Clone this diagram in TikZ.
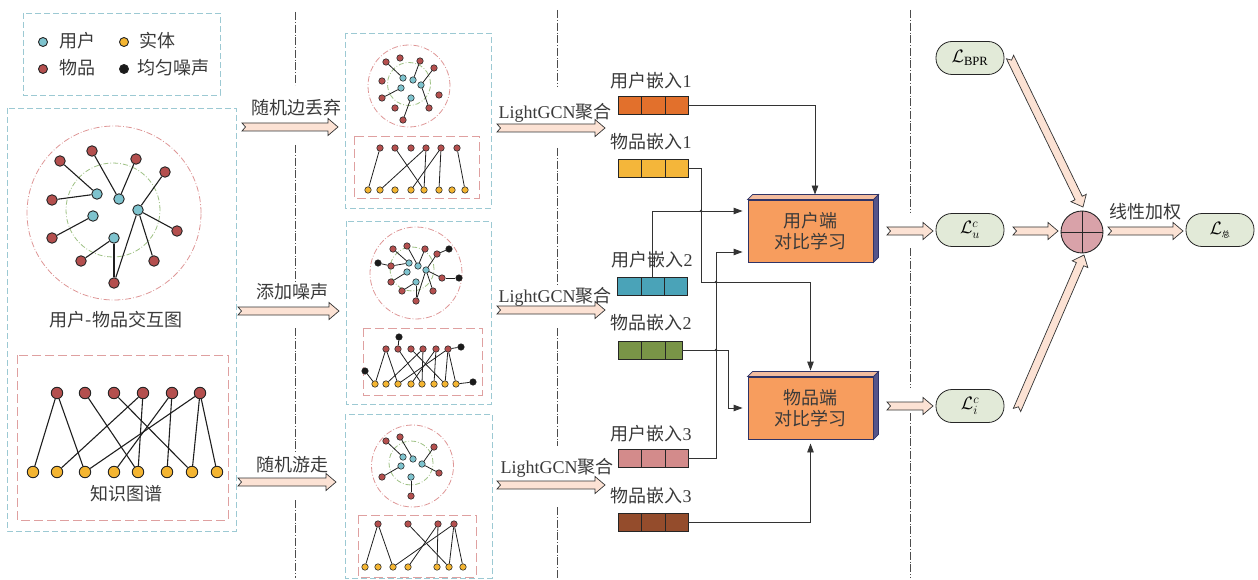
\documentclass[tikz,border=0pt]{standalone}
\usepackage{fix-cm}
\usepackage{fontspec}
\setmainfont{Liberation Serif}
\newfontfamily\cjk{Noto Sans CJK SC}
\usetikzlibrary{arrows.meta,calc}

\definecolor{ucol}{HTML}{7EC3CE}
\definecolor{icol}{HTML}{B44F4E}
\definecolor{ecol}{HTML}{F4B531}
\definecolor{ncol}{HTML}{1A1A1A}
\definecolor{cblue}{HTML}{9CC9D3}
\definecolor{cred}{HTML}{DFA0A0}
\definecolor{cpink}{HTML}{DE9696}
\definecolor{cgreen}{HTML}{9DC083}
\definecolor{peach}{HTML}{FCE2D4}
\definecolor{clbox}{HTML}{F79D5E}
\definecolor{cltop}{HTML}{F3BC9E}
\definecolor{clside}{HTML}{55558A}
\definecolor{clborder}{HTML}{2F3366}
\definecolor{lossfill}{HTML}{E2EAD8}
\definecolor{sumfill}{HTML}{D9A2A9}
\definecolor{embUa}{HTML}{E2702C}
\definecolor{embIa}{HTML}{F4B63A}
\definecolor{embUb}{HTML}{4AA3B8}
\definecolor{embIb}{HTML}{799447}
\definecolor{embUc}{HTML}{D38B8B}
\definecolor{embIc}{HTML}{944C2C}
\definecolor{txtc}{HTML}{3A3A3A}

\tikzset{
  gn/.style={circle, draw=black!85, line width=0.55pt, inner sep=0pt, minimum size=#1},
  usr/.style={gn=#1, fill=ucol},
  itm/.style={gn=#1, fill=icol},
  ent/.style={gn=#1, fill=ecol},
  noi/.style={gn=#1, fill=ncol},
  thick node/.style={line width=0.9pt},
  lnk/.style={draw=black!88, line width=1.1pt},
  slnk/.style={draw=black!88, line width=0.8pt},
  bluebox/.style={draw=cblue, line width=0.8pt, dash pattern=on 6pt off 3pt},
  redbox/.style={draw=cred, line width=0.9pt, dash pattern=on 9pt off 4pt},
  ring/.style={draw=cpink, line width=0.8pt, dash pattern=on 6pt off 2pt on 0.8pt off 2pt},
  gring/.style={draw=cgreen, line width=0.8pt, dash pattern=on 5pt off 2pt on 0.8pt off 2pt},
  vline/.style={draw=black!70, line width=0.6pt, dash pattern=on 8pt off 2pt on 0.6pt off 2pt},
  txt/.style={font=\cjk\fontsize{18}{21}\selectfont, text=txtc, inner sep=0pt},
  lat/.style={font=\fontsize{18}{21}\selectfont, text=txtc, inner sep=0pt},
  emb/.style={draw=black!85, line width=0.8pt, minimum width=#1, minimum height=18pt, inner sep=0pt,
    path picture={\draw[black!85, line width=0.8pt]
      ([xshift=23.5pt]path picture bounding box.north west) -- ([xshift=23.5pt]path picture bounding box.south west)
      ([xshift=47pt]path picture bounding box.north west) -- ([xshift=47pt]path picture bounding box.south west);}},
  cbox/.style={draw=clborder, line width=0.9pt, fill=clbox, minimum width=125pt, minimum height=62pt,
    inner sep=0pt, align=center, font=\cjk\fontsize{18}{21}\selectfont, text=txtc},
  loss/.style={draw=black!85, line width=0.8pt, fill=lossfill, rounded corners=16pt,
    minimum width=68pt, minimum height=33pt, inner sep=0pt, font=\fontsize{18}{20}\selectfont},
  conn/.style={draw=black!80, line width=0.9pt, -{Triangle[length=9pt,width=6.5pt]}},
  fat/.style={draw=black!80, line width=0.7pt, fill=peach, line join=miter,
    to path={let \p1=(\tikztostart), \p2=(\tikztotarget),
      \n1={atan2(\y2-\y1,\x2-\x1)}, \n2={veclen(\x2-\x1,\y2-\y1)} in
      {[shift={(\p1)}, rotate=\n1, x=1pt, y=1pt]
        (0,4) -- (\n2-10,4) -- (\n2-10,8.5) -- (\n2,0) -- (\n2-10,-8.5) -- (\n2-10,-4) -- (0,-4) -- (3.5,0) -- cycle}}},
}

\begin{document}
\begin{tikzpicture}[x=1pt,y=-1pt]
\useasboundingbox (0,0) rectangle (1258,580);

% ---------- legend ----------
\draw[bluebox] (23,13) rectangle (220,95);
\node[usr=9pt, thick node] (lgu) at (43,42) {};
\node[txt,anchor=west] (lgut) at (59,41) {用户};
\node[ent=9pt, thick node] (lge) at (124,42) {};
\node[txt,anchor=west] (lget) at (139,41) {实体};
\node[itm=9pt, thick node] (lgi) at (43,69) {};
\node[txt,anchor=west] (lgit) at (59,68) {物品};
\node[noi=9pt, thick node] (lgn) at (124,69) {};
\node[txt,anchor=west] (lgnt) at (137,68) {均匀噪声};

% ---------- input graphs ----------
\draw[bluebox] (7,108) rectangle (236,531);
\draw[ring] (114,213) circle[radius=87pt];
\draw[gring] (113,210) circle[radius=47pt];
\foreach \n/\x/\y in {1/60/161,2/92/151,3/136/159,4/165/172,5/52/200,6/52/238,7/177/231,8/81/261,9/154/261,10/114/283}
  \node[itm=10.5pt, thick node] (Gi\n) at (\x,\y) {};
\foreach \n/\x/\y in {1/97/194,2/119/199,3/138/210,4/93/216,5/114/238}
  \node[usr=10.5pt, thick node] (Gu\n) at (\x,\y) {};
\foreach \a/\b in {Gi1/Gu1,Gi5/Gu1,Gi2/Gu2,Gi3/Gu2,Gi4/Gu3,Gu3/Gi7,Gu3/Gi9,Gu3/Gi10,Gu4/Gi6,Gu5/Gi8,Gu5/Gi10}
  \draw[lnk] (\a) -- (\b);
\node[txt] (gtitle) at (116,320) {用户-物品交互图};

\draw[redbox] (17,355) rectangle (228,520);
\foreach \n/\x in {1/57,2/85,3/114,4/143,5/172,6/200}
  \node[itm=11.5pt, thick node] (Ki\n) at (\x,393) {};
\foreach \n/\x in {1/33,2/57,3/85,4/114,5/138,6/167,7/192,8/217}
  \node[ent=11.5pt, thick node] (Ke\n) at (\x,472) {};
\foreach \a/\b in {Ki1/Ke1,Ki1/Ke3,Ki2/Ke5,Ki3/Ke7,Ki4/Ke2,Ki4/Ke5,Ki5/Ke4,Ki5/Ke6,Ki6/Ke3,Ki6/Ke7,Ki6/Ke8}
  \draw[lnk] (\a) -- (\b);
\node[txt] (ktitle) at (126,494) {知识图谱};

% ---------- separators ----------
\foreach \a/\b in {12/85,145/282,328/452,500/578} \draw[vline] (295,\a) -- (295,\b);
\foreach \a/\b in {10/86,148/286,328/446,507/578} \draw[vline] (557,\a) -- (557,\b);
\foreach \a/\b in {10/213,248/387,413/578} \draw[vline] (910,\a) -- (910,\b);

% ---------- augmentation arrows ----------
\coordinate (fa1s) at (242,127); \coordinate (fa1e) at (338,127);
\coordinate (fa2s) at (238,311); \coordinate (fa2e) at (339,311);
\coordinate (fa3s) at (238,482); \coordinate (fa3e) at (336,482);
\draw[fat] (fa1s) to (fa1e);
\draw[fat] (fa2s) to (fa2e);
\draw[fat] (fa3s) to (fa3e);
\node[txt] (aug1) at (296,108) {随机边丢弃};
\node[txt] (aug2) at (292,292) {添加噪声};
\node[txt] (aug3) at (292,465) {随机游走};

% ---------- view 1: edge dropout ----------
\draw[bluebox] (345,33) rectangle (491,208);
\draw[ring] (409,86) circle[radius=41pt];
\draw[gring] (409,84) circle[radius=21.5pt];
\foreach \n/\x/\y in {1/386/62,2/400/58,3/420/61,4/434/68,5/382/81,6/439/95,7/382/98,8/395/108,9/429/108,10/403/120}
  \node[itm=6.5pt] (Ai\n) at (\x,\y) {};
\foreach \n/\x/\y in {1/403/78,2/413/80,3/401/88,4/421/85,5/411/98}
  \node[usr=6.5pt] (Au\n) at (\x,\y) {};
\foreach \a/\b in {Ai1/Au1,Ai3/Au2,Ai4/Au4,Au4/Ai9,Ai7/Au3,Au5/Ai10}
  \draw[slnk] (\a) -- (\b);
\draw[redbox] (354,136) rectangle (479,198);
\foreach \n/\x in {1/380,2/395,3/411,4/426,5/441,6/457}
  \node[itm=6.5pt] (AKi\n) at (\x,148) {};
\foreach \n/\x in {1/368,2/380,3/395,4/411,5/424,6/439,7/452,8/465}
  \node[ent=6.5pt] (AKe\n) at (\x,190) {};
\foreach \a/\b in {AKi1/AKe1,AKi2/AKe5,AKi4/AKe2,AKi4/AKe5,AKi5/AKe4,AKi5/AKe6,AKi6/AKe8}
  \draw[slnk] (\a) -- (\b);

% ---------- view 2: noise ----------
\draw[bluebox] (346,221) rectangle (491,404);
\draw[ring] (416,273) circle[radius=46pt];
\draw[gring] (412,269) circle[radius=22pt];
\foreach \n/\x/\y in {1/393/249,2/407/246,3/425/249,4/437/254,5/391/266,6/391/282,7/442/278,8/402/291,9/433/291,10/416/301}
  \node[itm=6.5pt] (Bi\n) at (\x,\y) {};
\foreach \n/\x/\y in {1/409/263,2/418/266,3/407/272,4/426/270,5/416/282}
  \node[usr=6.5pt] (Bu\n) at (\x,\y) {};
\foreach \n/\x/\y in {1/449/249,2/378/263,3/459/278}
  \node[noi=6.5pt] (Bn\n) at (\x,\y) {};
\foreach \a/\b in {Bi1/Bu1,Bi2/Bu2,Bi3/Bu2,Bi4/Bu4,Bi4/Bn1,Bn2/Bi5,Bi5/Bu1,Bi6/Bu3,Bu4/Bi7,Bi7/Bn3,Bu4/Bi9,Bu4/Bi10,Bu5/Bi8,Bu5/Bi10}
  \draw[slnk] (\a) -- (\b);
\draw[redbox] (363,328) rectangle (482,395);
\foreach \n/\x in {1/386,2/398,3/411,4/423,5/436,6/448}
  \node[itm=6.5pt] (BKi\n) at (\x,349) {};
\foreach \n/\x in {1/375,2/386,3/398,4/411,5/422,6/434,7/445,8/456}
  \node[ent=6.5pt] (BKe\n) at (\x,384) {};
\foreach \n/\x/\y in {1/399/337,2/461/347,3/365/371,4/473/382}
  \node[noi=6.5pt] (BKn\n) at (\x,\y) {};
\foreach \a/\b in {BKi1/BKe1,BKi1/BKe3,BKi2/BKe5,BKi3/BKe7,BKi4/BKe2,BKi4/BKe5,BKi5/BKe4,BKi5/BKe6,BKi6/BKe3,BKi6/BKe7,BKi6/BKe8,BKn1/BKi2,BKn2/BKi6,BKn3/BKe1,BKn4/BKe8}
  \draw[slnk] (\a) -- (\b);

% ---------- view 3: random walk ----------
\draw[bluebox] (345,414) rectangle (492,578);
\draw[ring] (412.5,466) circle[radius=41pt];
\draw[gring] (411,463) circle[radius=22pt];
\foreach \n/\x/\y in {1/386/441,2/400/437,3/434/447,4/382/477,5/439/473,6/411/496}
  \node[itm=6.5pt] (Ci\n) at (\x,\y) {};
\foreach \n/\x/\y in {1/403/457,2/413/459,3/401/466,4/422/464,5/411/477}
  \node[usr=6.5pt] (Cu\n) at (\x,\y) {};
\foreach \a/\b in {Ci1/Cu1,Ci2/Cu2,Ci3/Cu4,Cu4/Ci5,Ci4/Cu3,Cu5/Ci6}
  \draw[slnk] (\a) -- (\b);
\draw[redbox] (358,515) rectangle (476,577);
\foreach \n/\x in {1/378,2/408,3/438,4/454}
  \node[itm=6.5pt] (CKi\n) at (\x,524) {};
\foreach \n/\x in {1/365,2/378,3/393,4/408,5/437,6/449,7/463}
  \node[ent=6.5pt] (CKe\n) at (\x,567) {};
\foreach \a/\b in {CKi1/CKe1,CKi1/CKe3,CKi2/CKe6,CKi3/CKe5,CKi3/CKe4,CKi4/CKe3,CKi4/CKe6,CKi4/CKe7}
  \draw[slnk] (\a) -- (\b);

% ---------- LightGCN aggregation ----------
\coordinate (ga1s) at (497,128); \coordinate (ga1e) at (605,128);
\coordinate (ga2s) at (497,310); \coordinate (ga2e) at (605,310);
\coordinate (ga3s) at (497,485); \coordinate (ga3e) at (605,485);
\draw[fat] (ga1s) to (ga1e);
\draw[fat] (ga2s) to (ga2e);
\draw[fat] (ga3s) to (ga3e);
\node[lat] (agg1) at (555,113) {LightGCN{\cjk 聚合}};
\node[lat] (agg2) at (555,297) {LightGCN{\cjk 聚合}};
\node[lat] (agg3) at (557,468) {LightGCN{\cjk 聚合}};

% ---------- embeddings ----------
\node[emb=70pt, fill=embUa] (ue1) at (653,105.5) {};
\node[emb=70pt, fill=embIa] (ie1) at (653,168.5) {};
\node[emb=70pt, fill=embUb] (ue2) at (652.5,286.5) {};
\node[emb=64pt, fill=embIb] (ie2) at (650,350) {};
\node[emb=70pt, fill=embUc] (ue3) at (653,458.5) {};
\node[emb=70pt, fill=embIc] (ie3) at (653,522) {};
\node[lat] (ue1l) at (651,81) {{\cjk 用户嵌入}1};
\node[lat] (ie1l) at (651,142) {{\cjk 物品嵌入}1};
\node[lat] (ue2l) at (652,260) {{\cjk 用户嵌入}2};
\node[lat] (ie2l) at (651,323) {{\cjk 物品嵌入}2};
\node[lat] (ue3l) at (651,434) {{\cjk 用户嵌入}3};
\node[lat] (ie3l) at (651,496) {{\cjk 物品嵌入}3};

% ---------- contrastive learning blocks ----------
\foreach \nm/\y/\t in {ucl/231/用户端, icl/408/物品端}{
  \node[cbox] (\nm) at (810.5,\y) {\t\\对比学习};
  \path[draw=clborder, fill=cltop, line width=0.7pt] (\nm.north west) -- ++(5,-5) -- ($(\nm.north east)+(5,-5)$) -- (\nm.north east) -- cycle;
  \path[draw=clborder, fill=clside, line width=0.7pt] (\nm.north east) -- ++(5,-5) -- ($(\nm.south east)+(5,-5)$) -- (\nm.south east) -- cycle;
}

\coordinate (j1) at (701,282);
\draw[conn, shorten >=5pt] (ue1.east) -| ([xshift=4.5pt]ucl.north);
\draw[conn, shorten >=6pt] (ie1.east) -| (j1) -| (icl.north);
\draw[conn, shorten >=5pt] (ue2.north) |- ($(ucl.west)+(0,-20)$);
\draw[conn, shorten >=5pt] (ue3.east) -- ++(28,0) |- ($(ucl.west)+(0,21)$);
\draw[conn, shorten >=5pt] (ie2.east) -- ++(46,0) |- (icl.west);
\draw[conn, shorten >=4pt] (ie3.east) -| (icl.south);
\foreach \p in {(701,211),(716,282),(716,350)} \fill[black!80] \p circle[radius=1.3pt];

% ---------- losses ----------
\node[loss] (Lbpr) at (970,58) {$\mathcal{L}_{\mathrm{BPR}}$};
\node[loss] (Lu) at (970,230) {$\mathcal{L}^{c}_{u}$};
\node[loss] (Li) at (970,406) {$\mathcal{L}^{c}_{i}$};
\node[loss] (Lt) at (1220,230) {$\mathcal{L}_{\mbox{\cjk\fontsize{8}{8}\selectfont 总}}$};
\node[circle, draw=black!85, line width=0.9pt, fill=sumfill, minimum size=42pt, inner sep=0pt] (sum) at (1082,232) {};
\draw[black!85, line width=0.9pt] (sum.north) -- (sum.south) (sum.west) -- (sum.east);

\coordinate (fb1s) at (887,231); \coordinate (fb1e) at (933,231);
\coordinate (fb2s) at (887,406); \coordinate (fb2e) at (933,406);
\coordinate (fc1s) at (1013,231); \coordinate (fc1e) at (1058,231);
\coordinate (fc2s) at (1010,57); \coordinate (fc2e) at (1083,207);
\coordinate (fc3s) at (1017,410); \coordinate (fc3e) at (1084,255);
\coordinate (fd1s) at (1108,231); \coordinate (fd1e) at (1183,231);
\draw[fat] (fb1s) to (fb1e);
\draw[fat] (fb2s) to (fb2e);
\draw[fat] (fc1s) to (fc1e);
\draw[fat] (fc2s) to (fc2e);
\draw[fat] (fc3s) to (fc3e);
\draw[fat] (fd1s) to (fd1e);
\node[txt] (wsum) at (1145,212) {线性加权};
\end{tikzpicture}
\end{document}
